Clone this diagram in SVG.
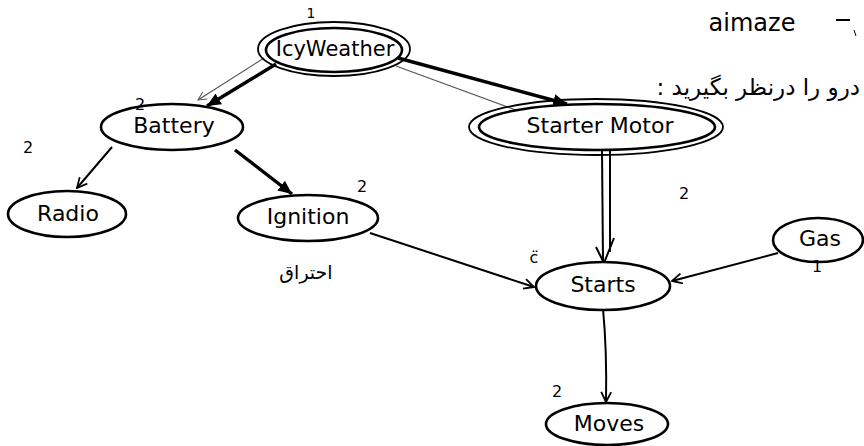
<svg xmlns="http://www.w3.org/2000/svg" width="864" height="446" viewBox="0 0 864 446">
  <style>
    .node { fill: #fff; stroke: #000; stroke-width: 2.6; }
    .ring { fill: none; stroke: #000; stroke-width: 1.8; }
    .label { font-family: "DejaVu Sans", "Noto Sans", sans-serif; font-size: 22px; fill: #000; text-anchor: middle; dominant-baseline: central; }
    .note { font-family: "DejaVu Sans", "Noto Sans", sans-serif; font-size: 16px; fill: #000; text-anchor: middle; }
    .fa { font-family: "DejaVu Sans", sans-serif; font-size: 19px; fill: #000; }
    .edge { fill: none; stroke: #000; stroke-width: 2; }
    .heavy { stroke-width: 3.4; }
    .faint { fill: none; stroke: #555; stroke-width: 1.2; }
  </style>
  <defs>
    <marker id="arrow" viewBox="0 0 12 12" refX="11" refY="6" markerWidth="12" markerHeight="12" markerUnits="userSpaceOnUse" orient="auto">
      <path d="M1,1 L11,6 L1,11" fill="none" stroke="#000" stroke-width="1.8"/>
    </marker>
    <marker id="arrowBold" viewBox="0 0 12 12" refX="11" refY="6" markerWidth="15" markerHeight="15" markerUnits="userSpaceOnUse" orient="auto">
      <path d="M0,1 L11,6 L0,11 Z" fill="#000"/>
    </marker>
    <marker id="arrowFaint" viewBox="0 0 12 12" refX="11" refY="6" markerWidth="10" markerHeight="10" markerUnits="userSpaceOnUse" orient="auto">
      <path d="M1,1 L11,6 L1,11" fill="none" stroke="#555" stroke-width="1.2"/>
    </marker>
  </defs>

  <!-- connectors -->
  <g id="connectors">
    <!-- IcyWeather -> Battery -->
    <line class="faint" x1="264" y1="58" x2="198" y2="100" marker-end="url(#arrowFaint)"/>
    <line class="edge heavy" x1="276" y1="64" x2="207" y2="106" marker-end="url(#arrowBold)"/>
    <!-- IcyWeather -> Starter Motor -->
    <line class="edge heavy" x1="398" y1="58" x2="567" y2="104" marker-end="url(#arrowBold)"/>
    <line class="faint" x1="396" y1="66" x2="535" y2="117" marker-end="url(#arrowFaint)"/>
    <!-- Battery -> Radio -->
    <line class="edge" x1="112" y1="147" x2="77" y2="188" marker-end="url(#arrow)"/>
    <!-- Battery -> Ignition -->
    <line class="edge heavy" x1="235" y1="150" x2="292" y2="194" marker-end="url(#arrowBold)"/>
    <!-- Ignition -> Starts -->
    <line class="edge" x1="370" y1="233" x2="534" y2="287" marker-end="url(#arrow)"/>
    <!-- Starter Motor -> Starts (double line) -->
    <line class="edge" x1="602" y1="150" x2="603" y2="261"/>
    <line class="edge" x1="610" y1="150" x2="610" y2="252"/>
    <path class="edge" d="M596,247 L604,263 L614,238"/>
    <!-- Gas -> Starts -->
    <line class="edge" x1="778" y1="253" x2="672" y2="281" marker-end="url(#arrow)"/>
    <!-- Starts -> Moves -->
    <path class="edge" d="M603,309 Q607,350 606,402" marker-end="url(#arrow)"/>
  </g>

  <!-- nodes -->
  <g id="icyweather">
    <ellipse class="ring" cx="334" cy="49" rx="76" ry="27"/>
    <ellipse class="node" cx="334" cy="50" rx="68" ry="22"/>
    <text class="label" x="335" y="49" style="font-size:21px">IcyWeather</text>
    <text class="note" x="311" y="18" style="font-size:14px">1</text>
  </g>
  <g id="battery">
    <ellipse class="node" cx="172" cy="127" rx="71" ry="23"/>
    <text class="label" x="174" y="125">Battery</text>
    <text class="note" x="140" y="110">2</text>
  </g>
  <g id="starter-motor">
    <ellipse class="ring" cx="596" cy="127" rx="127" ry="28"/>
    <ellipse class="node" cx="597" cy="127" rx="118" ry="23"/>
    <text class="label" x="600" y="125">Starter Motor</text>
    <text class="note" x="684" y="199">2</text>
  </g>
  <g id="radio">
    <ellipse class="node" cx="67" cy="214" rx="59" ry="23"/>
    <text class="label" x="68" y="213">Radio</text>
    <text class="note" x="28" y="153">2</text>
  </g>
  <g id="ignition">
    <ellipse class="node" cx="308" cy="218" rx="70" ry="23"/>
    <text class="label" x="308" y="216">Ignition</text>
    <text class="note" x="362" y="192">2</text>
    <text class="fa" x="306" y="279" text-anchor="middle">احتراق</text>
  </g>
  <g id="gas">
    <ellipse class="node" cx="818" cy="240" rx="45" ry="22"/>
    <text class="label" x="820" y="238">Gas</text>
    <text class="note" x="817" y="272">1</text>
  </g>
  <g id="starts">
    <ellipse class="node" cx="603" cy="286" rx="67" ry="24"/>
    <text class="label" x="603" y="284">Starts</text>
    <text class="note" x="534" y="263">c̈</text>
  </g>
  <g id="moves">
    <ellipse class="node" cx="607" cy="424" rx="61" ry="21"/>
    <text class="label" x="609" y="423">Moves</text>
    <text class="note" x="557" y="397">2</text>
  </g>

  <!-- margin notes -->
  <g id="notes">
    <text class="note" x="752" y="31" style="font-size:24px">aimaze</text>
    <line x1="836" y1="20" x2="850" y2="20" stroke="#000" stroke-width="2"/>
    <line x1="854" y1="30" x2="856" y2="36" stroke="#000" stroke-width="1"/>
    <text class="fa" x="860" y="95" direction="rtl" style="font-size:23px; text-anchor:start; direction:rtl; unicode-bidi:embed">درو را درنظر بگیرید :</text>
  </g>
</svg>
